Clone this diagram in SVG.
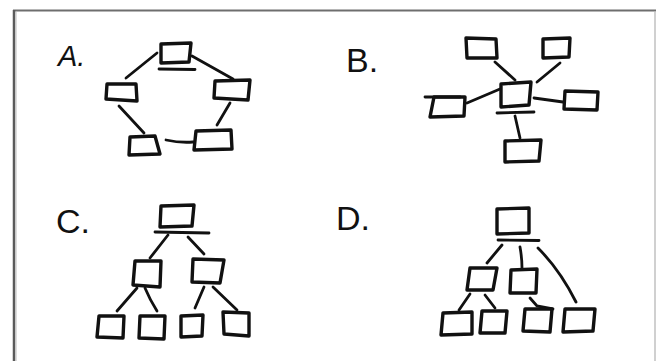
<svg xmlns="http://www.w3.org/2000/svg" width="656" height="361" viewBox="0 0 656 361">
<style>
.bx{fill:none;stroke:#111;stroke-width:3.4;stroke-linejoin:round;stroke-linecap:round}
.ln{fill:none;stroke:#111;stroke-width:2.8;stroke-linecap:round}
.lb{font-family:"Liberation Sans",Arial,sans-serif;fill:#111}
</style>
<rect width="656" height="361" fill="#fff"/>
<g id="frame">
<line x1="13" y1="10.5" x2="656" y2="10.5" stroke="#6e6e6e" stroke-width="2"/>
<line x1="14" y1="10" x2="14" y2="361" stroke="#5a5a5a" stroke-width="2.5"/>
<line x1="16" y1="12" x2="16" y2="361" stroke="#bbb" stroke-width="1"/>
<line x1="655" y1="12" x2="655" y2="361" stroke="#d0d0d0" stroke-width="2"/>
</g>
<g id="labels">
<text class="lb" x="58" y="66" font-size="29" font-style="italic">A.</text>
<text class="lb" x="346" y="72" font-size="34">B.</text>
<text class="lb" x="56" y="233" font-size="34">C.</text>
<text class="lb" x="336" y="230" font-size="34">D.</text>
</g>
<g id="connectors">
<path class="ln" d="M157 53 L126 78"/>
<path class="ln" d="M192 56 L233 79"/>
<path class="ln" d="M119 106 L144 133"/>
<path class="ln" d="M230 103 L217 125"/>
<path class="ln" d="M166 140 Q180 143 193 142"/>
<path class="ln" d="M159 69 L195 69.5"/>
<path class="ln" d="M495 62 L515 80"/>
<path class="ln" d="M560 63 L537 82"/>
<path class="ln" d="M500 89 L467 103"/>
<path class="ln" d="M534 98 L563 102"/>
<path class="ln" d="M515 116 L520 138"/>
<path class="ln" d="M497 113 L534 112"/>
<path class="ln" d="M425 97 L460 97"/>
<path class="ln" d="M155 232 L209 233"/>
<path class="ln" d="M168 235 L150 258"/>
<path class="ln" d="M188 237 L204 254"/>
<path class="ln" d="M137 288 L117 311"/>
<path class="ln" d="M145 288 Q150 300 157 311"/>
<path class="ln" d="M204 287 L195 308"/>
<path class="ln" d="M213 287 L237 310"/>
<path class="ln" d="M498 240 L539 240.5"/>
<path class="ln" d="M502 245 L487 263"/>
<path class="ln" d="M520 247 Q522 258 522 268"/>
<path class="ln" d="M538 248 Q560 270 576 302"/>
<path class="ln" d="M470 294 L459 310"/>
<path class="ln" d="M485 295 L495 308"/>
<path class="ln" d="M530 298 L537 306 L553 309"/>
</g>
<g id="A-top"><path class="bx" d="M161 44 L191 43 L189 62 L161 63 Z"/></g>
<g id="A-left"><path class="bx" d="M107 84 L136 84 L137 101 L106 99 Z"/></g>
<g id="A-right"><path class="bx" d="M215 81 L250 80 L248 100 L214 98 Z"/></g>
<g id="A-bottom-left"><path class="bx" d="M130 137 L155 136 L160 154 L129 155 Z"/></g>
<g id="A-bottom-right"><path class="bx" d="M196 131 L231 130 L232 149 L194 150 Z"/></g>
<g id="B-top-left"><path class="bx" d="M466 38 L496 39 L497 58 L467 58 Z"/></g>
<g id="B-top-right"><path class="bx" d="M543 39 L570 38 L569 57 L543 58 Z"/></g>
<g id="B-center"><path class="bx" d="M501 84 L531 82 L529 105 L501 107 Z"/></g>
<g id="B-left"><path class="bx" d="M434 97 L465 97 L464 116 L430 117 Z"/></g>
<g id="B-right"><path class="bx" d="M565 91 L598 92 L597 110 L564 109 Z"/></g>
<g id="B-bottom"><path class="bx" d="M505 141 L541 140 L539 161 L505 162 Z"/></g>
<g id="C-root"><path class="bx" d="M161 206 L194 205 L192 226 L160 227 Z"/></g>
<g id="C-mid-left"><path class="bx" d="M135 261 L161 261 L160 287 L133 285 Z"/></g>
<g id="C-mid-right"><path class="bx" d="M193 259 L224 260 L220 283 L192 282 Z"/></g>
<g id="C-leaf-1"><path class="bx" d="M99 316 L124 316 L123 338 L97 337 Z"/></g>
<g id="C-leaf-2"><path class="bx" d="M140 316 L165 316 L164 339 L139 338 Z"/></g>
<g id="C-leaf-3"><path class="bx" d="M181 316 L203 315 L202 336 L181 337 Z"/></g>
<g id="C-leaf-4"><path class="bx" d="M223 312 L249 313 L249 336 L224 334 Z"/></g>
<g id="D-root"><path class="bx" d="M497 209 L529 208 L529 233 L497 234 Z"/></g>
<g id="D-mid-left"><path class="bx" d="M470 268 L497 268 L493 290 L467 290 Z"/></g>
<g id="D-mid-center"><path class="bx" d="M511 270 L537 269 L536 293 L510 293 Z"/></g>
<g id="D-leaf-1"><path class="bx" d="M443 313 L472 312 L472 334 L441 335 Z"/></g>
<g id="D-leaf-2"><path class="bx" d="M482 311 L507 311 L505 333 L480 333 Z"/></g>
<g id="D-leaf-3"><path class="bx" d="M525 309 L552 309 L550 332 L523 331 Z"/></g>
<g id="D-leaf-4"><path class="bx" d="M565 309 L595 309 L593 331 L563 332 Z"/></g>
</svg>
